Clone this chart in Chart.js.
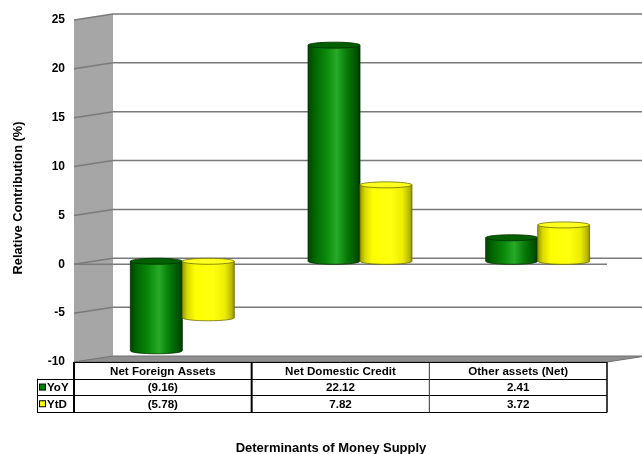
<!DOCTYPE html>
<html lang="en">
<head>
<meta charset="UTF-8">
<title>Determinants of Money Supply</title>
<script src="https://cdn.jsdelivr.net/npm/chart.js"></script>
<style>
  body { margin: 0; background: #fff; }
</style>
</head>
<body>
<canvas id="moneyChart" width="642" height="454"></canvas>
<script>
const categories = ['Net Foreign Assets', 'Net Domestic Credit', 'Other assets (Net)'];
const seriesNames = ['YoY', 'YtD'];
const yoyValues = [-9.16, 22.12, 2.41];
const ytdValues = [-5.78, 7.82, 3.72];
const yTicks = [-10, -5, 0, 5, 10, 15, 20, 25];
const chartTitle = 'Determinants of Money Supply';
const yTitle = 'Relative Contribution (%)';

const FONT = '"Liberation Sans", Arial, sans-serif';
// depth of the 3d box: back plane is shifted right and up
const DX = 39, DY = -6;

const palettes = [
  { // green
    body: [[0, '#004400'], [0.12, '#006400'], [0.35, '#0a8a0a'], [0.55, '#28aa28'], [0.75, '#077a07'], [0.92, '#005500'], [1, '#003a00']],
    top: '#006000', edge: '#003000', key: '#008000'
  },
  { // yellow
    body: [[0, '#9a9a00'], [0.1, '#dada00'], [0.25, '#ffff00'], [0.6, '#ffff10'], [0.82, '#eded00'], [0.95, '#b8b800'], [1, '#8a8a00']],
    top: '#ffff20', edge: '#707000', key: '#ffff00'
  }
];

function fmt(v) {
  return v < 0 ? '(' + Math.abs(v).toFixed(2) + ')' : v.toFixed(2);
}

function drawCylinder(ctx, cx, halfW, top, bottom, pal) {
  const ry = 3;
  const left = cx - halfW, right = cx + halfW;
  const grad = ctx.createLinearGradient(left, 0, right, 0);
  pal.body.forEach(([s, c]) => grad.addColorStop(s, c));
  ctx.beginPath();
  ctx.moveTo(left, top);
  ctx.lineTo(left, bottom);
  ctx.ellipse(cx, bottom, halfW, ry, 0, Math.PI, 0, true);
  ctx.lineTo(right, top);
  ctx.closePath();
  ctx.fillStyle = grad;
  ctx.fill();
  ctx.lineWidth = 0.8;
  ctx.strokeStyle = pal.edge;
  ctx.stroke();
  // top cap
  ctx.beginPath();
  ctx.ellipse(cx, top, halfW, ry, 0, 0, Math.PI * 2);
  ctx.fillStyle = pal.top;
  ctx.fill();
  ctx.stroke();
}

const box3d = {
  id: 'box3d',
  beforeDatasetsDraw(chart) {
    const { ctx, chartArea: a, scales: { y } } = chart;
    const yTop = y.getPixelForValue(yTicks[yTicks.length - 1]);
    const yBot = y.getPixelForValue(yTicks[0]);
    ctx.save();

    // left side wall
    ctx.fillStyle = '#a6a6a6';
    ctx.beginPath();
    ctx.moveTo(a.left, yTop);
    ctx.lineTo(a.left + DX, yTop + DY);
    ctx.lineTo(a.left + DX, yBot + DY);
    ctx.lineTo(a.left, yBot);
    ctx.closePath();
    ctx.fill();

    // floor
    ctx.fillStyle = '#8f8f8f';
    ctx.beginPath();
    ctx.moveTo(a.left, yBot);
    ctx.lineTo(a.right, yBot);
    ctx.lineTo(a.right + DX, yBot + DY);
    ctx.lineTo(a.left + DX, yBot + DY);
    ctx.closePath();
    ctx.fill();
    ctx.strokeStyle = '#6e6e6e';
    ctx.lineWidth = 1;
    ctx.stroke();

    // gridlines: slanted across the wall, then along the back
    ctx.strokeStyle = '#7a7a7a';
    ctx.lineWidth = 1.5;
    yTicks.slice(1).forEach(v => {
      const py = y.getPixelForValue(v);
      ctx.beginPath();
      ctx.moveTo(a.left, py);
      ctx.lineTo(a.left + DX, py + DY);
      ctx.lineTo(chart.width, py + DY);
      ctx.stroke();
    });

    // front axis line at zero
    const y0 = y.getPixelForValue(0);
    ctx.beginPath();
    ctx.moveTo(a.left, y0);
    ctx.lineTo(a.right, y0);
    ctx.stroke();

    // cylinders sit half way into the box
    chart.data.datasets.forEach((ds, di) => {
      const meta = chart.getDatasetMeta(di);
      meta.data.forEach(el => {
        const top = Math.min(el.y, el.base) + DY / 2;
        const bottom = Math.max(el.y, el.base) + DY / 2;
        drawCylinder(ctx, el.x + DX / 2, el.width / 2, top, bottom, palettes[di]);
      });
    });
    ctx.restore();
    return false;
  },
  afterDraw(chart) {
    const { ctx, chartArea: a, scales: { x, y } } = chart;
    const top = y.getPixelForValue(yTicks[0]);
    const rowH = 16.7;
    const keyLeft = 37;
    const step = (a.right - a.left) / categories.length;
    const rows = [yoyValues, ytdValues];
    ctx.save();
    ctx.fillStyle = '#000';
    ctx.font = 'bold 11.6px ' + FONT;
    ctx.textBaseline = 'middle';
    ctx.textAlign = 'center';

    categories.forEach((c, i) => {
      const cx = x.getPixelForValue(i);
      ctx.fillText(c, cx, top + rowH / 2 + 1);
      rows.forEach((vals, r) => {
        ctx.fillText(fmt(vals[i]), cx, top + rowH * (r + 1.5) + 1);
      });
    });

    // legend keys in the row headers
    ctx.textAlign = 'left';
    seriesNames.forEach((name, r) => {
      const cy = top + rowH * (r + 1.5);
      ctx.fillStyle = palettes[r].key;
      ctx.fillRect(keyLeft + 2.5, cy - 3, 6, 6);
      ctx.strokeStyle = '#000';
      ctx.lineWidth = 1;
      ctx.strokeRect(keyLeft + 2.5, cy - 3, 6, 6);
      ctx.fillStyle = '#000';
      ctx.fillText(name, keyLeft + 10, cy + 1);
    });

    // table rules
    ctx.strokeStyle = '#000';
    ctx.lineWidth = 1;
    [1, 2, 3].forEach(r => {
      const ly = Math.round(top + rowH * r) + 0.5;
      ctx.beginPath();
      ctx.moveTo(keyLeft, ly);
      ctx.lineTo(a.right, ly);
      ctx.stroke();
    });
    ctx.beginPath();
    ctx.moveTo(keyLeft + 0.5, top + rowH);
    ctx.lineTo(keyLeft + 0.5, top + rowH * 3);
    ctx.stroke();
    for (let i = 0; i <= categories.length; i++) {
      const lx = a.left + step * i;
      ctx.lineWidth = (i === 0 || i === 1) ? 2 : (i === categories.length ? 1.5 : 1);
      ctx.strokeStyle = i === 2 ? '#333' : '#000';
      ctx.beginPath();
      ctx.moveTo(lx, top);
      ctx.lineTo(lx, top + rowH * 3 + 0.5);
      ctx.stroke();
    }
    ctx.beginPath();
    ctx.strokeStyle = '#000';
    ctx.lineWidth = 1;
    ctx.moveTo(a.left, top + 0.5);
    ctx.lineTo(a.right, top + 0.5);
    ctx.stroke();

    // chart title under the table
    ctx.textAlign = 'center';
    ctx.font = 'bold 13px ' + FONT;
    ctx.fillText(chartTitle, 331, 448);

    // value axis title, rotated along the wall
    ctx.translate(18, 198);
    ctx.rotate(-Math.PI / 2);
    ctx.font = 'bold 12.8px ' + FONT;
    ctx.fillText(yTitle, 0, 0);
    ctx.restore();
  }
};

new Chart(document.getElementById('moneyChart'), {
  type: 'bar',
  data: {
    labels: categories,
    datasets: [
      { label: seriesNames[0], data: yoyValues, backgroundColor: palettes[0].key },
      { label: seriesNames[1], data: ytdValues, backgroundColor: palettes[1].key }
    ]
  },
  options: {
    responsive: false,
    animation: false,
    devicePixelRatio: 1,
    layout: { padding: { left: 0, right: 35, top: 20, bottom: 92 } },
    datasets: { bar: { categoryPercentage: 0.585, barPercentage: 1 } },
    plugins: {
      legend: { display: false },
      tooltip: { enabled: false },
      title: { display: false }
    },
    scales: {
      x: { display: false, offset: true },
      y: {
        min: -10,
        max: 25,
        afterBuildTicks: s => { s.ticks = yTicks.map(v => ({ value: v })); },
        afterFit: s => { s.width = 74; },
        grid: { display: false, drawTicks: false },
        border: { display: false },
        ticks: { padding: 9, color: '#000', font: { family: FONT, size: 12, weight: 'bold' } },
        title: { display: false }
      }
    }
  },
  plugins: [box3d]
});
</script>
</body>
</html>
